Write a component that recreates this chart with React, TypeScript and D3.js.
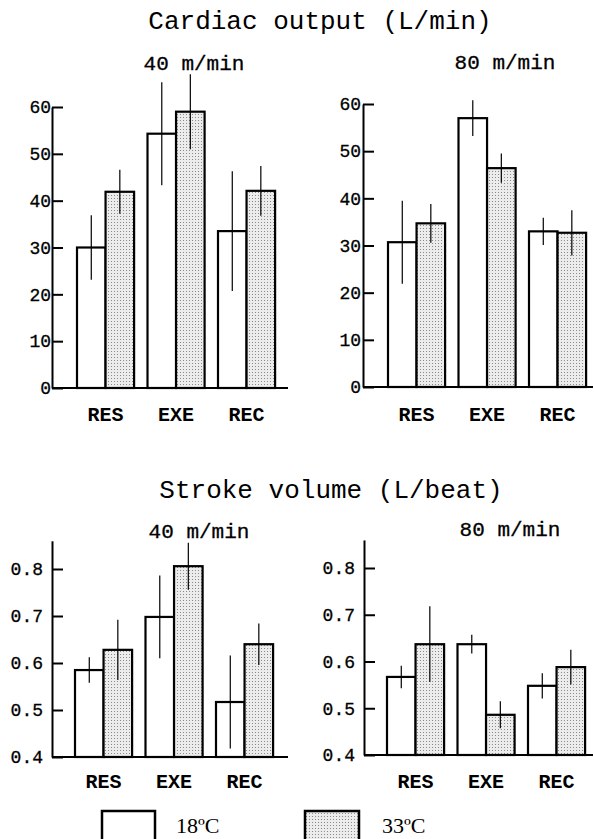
import { useEffect, useRef } from "react";
import { axisLeft, scaleBand, scaleLinear, select } from "d3";

const categories = ["RES", "EXE", "REC"];
const series = ["18ºC", "33ºC"];

// cardiac output (L/min), mean and error
const co40Cold = [30, 54.3, 33.5];
const co40ColdErr = [6.9, 11, 12.8];
const co40Warm = [41.9, 59, 42.1];
const co40WarmErr = [4.7, 8, 5.3];
const co80Cold = [30.7, 57, 33];
const co80ColdErr = [8.8, 3.8, 2.9];
const co80Warm = [34.7, 46.4, 32.7];
const co80WarmErr = [4.1, 3.1, 4.8];

// stroke volume (L/beat)
const sv40Cold = [0.585, 0.698, 0.517];
const sv40ColdErr = [0.027, 0.088, 0.099];
const sv40Warm = [0.628, 0.806, 0.64];
const sv40WarmErr = [0.064, 0.05, 0.044];
const sv80Cold = [0.567, 0.637, 0.548];
const sv80ColdErr = [0.024, 0.02, 0.027];
const sv80Warm = [0.637, 0.486, 0.588];
const sv80WarmErr = [0.081, 0.029, 0.037];

const coTicks = [0, 10, 20, 30, 40, 50, 60];
const svTicks = [0.4, 0.5, 0.6, 0.7, 0.8];

const mono = "'Liberation Mono', 'DejaVu Sans Mono', monospace";
const serif = "'Liberation Serif', 'DejaVu Serif', serif";

function AxisLeft({ scale, ticks, x, pad, format }) {
  const ref = useRef(null);

  useEffect(() => {
    if (!ref.current) return;
    const g = select(ref.current);
    g.call(
      axisLeft(scale)
        .tickValues(ticks)
        .tickSizeInner(-11)
        .tickSizeOuter(0)
        .tickPadding(pad)
        .tickFormat(format)
    );
    g.select(".domain").attr("stroke-width", 2);
    g.selectAll(".tick line").attr("stroke-width", 2);
    g.selectAll(".tick text")
      .attr("font-family", mono)
      .attr("font-size", 18)
      .attr("fill", "#000")
      .attr("stroke", "#000")
      .attr("stroke-width", 0.3);
  }, [scale]);

  return <g ref={ref} transform={`translate(${x},0)`} />;
}

function Panel({ axisX, firstBar, right, y0, y1, domain, axisTop, ticks, pad, format, cold, coldErr, warm, warmErr, label, labelX, labelY, catY }) {
  const step = 70.5;
  const po = 0.095;
  const start = axisX + firstBar - po * step;
  const scaleX = scaleBand()
    .domain(categories)
    .range([start, start + step * 3])
    .paddingInner(0.19)
    .paddingOuter(po);
  const sub = scaleBand().domain(series).range([0, scaleX.bandwidth()]);
  const scaleY = scaleLinear().domain(domain).range([y0, y1]);
  const axisScale = scaleLinear().domain([domain[0], axisTop]).range([y0, scaleY(axisTop)]);

  const groups = [
    { key: series[0], values: cold, errs: coldErr, fill: "#fff" },
    { key: series[1], values: warm, errs: warmErr, fill: "url(#stipple)" },
  ];

  return (
    <g>
      <text x={labelX} y={labelY} textAnchor="middle" fontFamily={mono} fontSize={21} stroke="#000" strokeWidth={0.3}>
        {label}
      </text>
      {groups.map((s) =>
        categories.map((c, i) => {
          const bx = scaleX(c) + sub(s.key);
          const top = scaleY(s.values[i]);
          return (
            <rect
              key={s.key + c}
              x={bx}
              y={top}
              width={sub.bandwidth()}
              height={y0 - top}
              fill={s.fill}
              stroke="#000"
              strokeWidth={2.2}
            />
          );
        })
      )}
      {groups.map((s) =>
        categories.map((c, i) => {
          const cx = scaleX(c) + sub(s.key) + sub.bandwidth() / 2;
          return (
            <line
              key={"e" + s.key + c}
              x1={cx}
              x2={cx}
              y1={scaleY(s.values[i] - s.errs[i])}
              y2={scaleY(s.values[i] + s.errs[i])}
              stroke="#000"
              strokeWidth={1.2}
            />
          );
        })
      )}
      <line x1={axisX} x2={right} y1={y0} y2={y0} stroke="#000" strokeWidth={2.2} />
      <AxisLeft scale={axisScale} ticks={ticks} x={axisX} pad={pad} format={format} />
      {categories.map((c) => (
        <text
          key={"c" + c}
          x={scaleX(c) + scaleX.bandwidth() / 2}
          y={catY}
          textAnchor="middle"
          fontFamily={mono}
          fontWeight="bold"
          fontSize={20}
        >
          {c}
        </text>
      ))}
    </g>
  );
}

const App = () => {
  const intFmt = (d) => String(d);
  const decFmt = (d) => d.toFixed(1);
  return (
    <svg
      width={594}
      height={839}
      style={{ position: "absolute", left: 0, top: 0, background: "#fff" }}
    >
      <defs>
        <pattern id="stipple" width={3} height={3} patternUnits="userSpaceOnUse">
          <rect width={3} height={3} fill="#ececec" />
          <rect width={1} height={1} fill="#8a8a8a" />
        </pattern>
      </defs>
      <rect width={594} height={839} fill="#fff" />

      <text x={320} y={29} textAnchor="middle" fontFamily={mono} fontSize={26}>
        Cardiac output (L/min)
      </text>
      <text x={331} y={498} textAnchor="middle" fontFamily={mono} fontSize={26}>
        Stroke volume (L/beat)
      </text>

      <Panel
        axisX={52} firstBar={25} right={288} y0={388} y1={107}
        domain={[0, 60]} axisTop={60} ticks={coTicks} pad={1} format={intFmt}
        cold={co40Cold} coldErr={co40ColdErr} warm={co40Warm} warmErr={co40WarmErr}
        label="40 m/min" labelX={194} labelY={70} catY={421}
      />
      <Panel
        axisX={363} firstBar={25} right={593} y0={387} y1={104}
        domain={[0, 60]} axisTop={60} ticks={coTicks} pad={2} format={intFmt}
        cold={co80Cold} coldErr={co80ColdErr} warm={co80Warm} warmErr={co80WarmErr}
        label="80 m/min" labelX={505} labelY={69} catY={421}
      />
      <Panel
        axisX={52} firstBar={23} right={288} y0={757} y1={569}
        domain={[0.4, 0.8]} axisTop={0.86} ticks={svTicks} pad={9} format={decFmt}
        cold={sv40Cold} coldErr={sv40ColdErr} warm={sv40Warm} warmErr={sv40WarmErr}
        label="40 m/min" labelX={199} labelY={538} catY={788}
      />
      <Panel
        axisX={364} firstBar={23} right={593} y0={755} y1={568}
        domain={[0.4, 0.8]} axisTop={0.86} ticks={svTicks} pad={9} format={decFmt}
        cold={sv80Cold} coldErr={sv80ColdErr} warm={sv80Warm} warmErr={sv80WarmErr}
        label="80 m/min" labelX={510} labelY={536} catY={788}
      />

      <rect x={102} y={811} width={53} height={32} fill="#fff" stroke="#000" strokeWidth={2.5} />
      <text x={176} y={833} fontFamily={serif} fontSize={22}>
        {series[0]}
      </text>
      <rect x={305} y={811} width={54} height={32} fill="url(#stipple)" stroke="#000" strokeWidth={2.5} />
      <text x={382} y={833} fontFamily={serif} fontSize={22}>
        {series[1]}
      </text>
    </svg>
  );
};

export default App;
